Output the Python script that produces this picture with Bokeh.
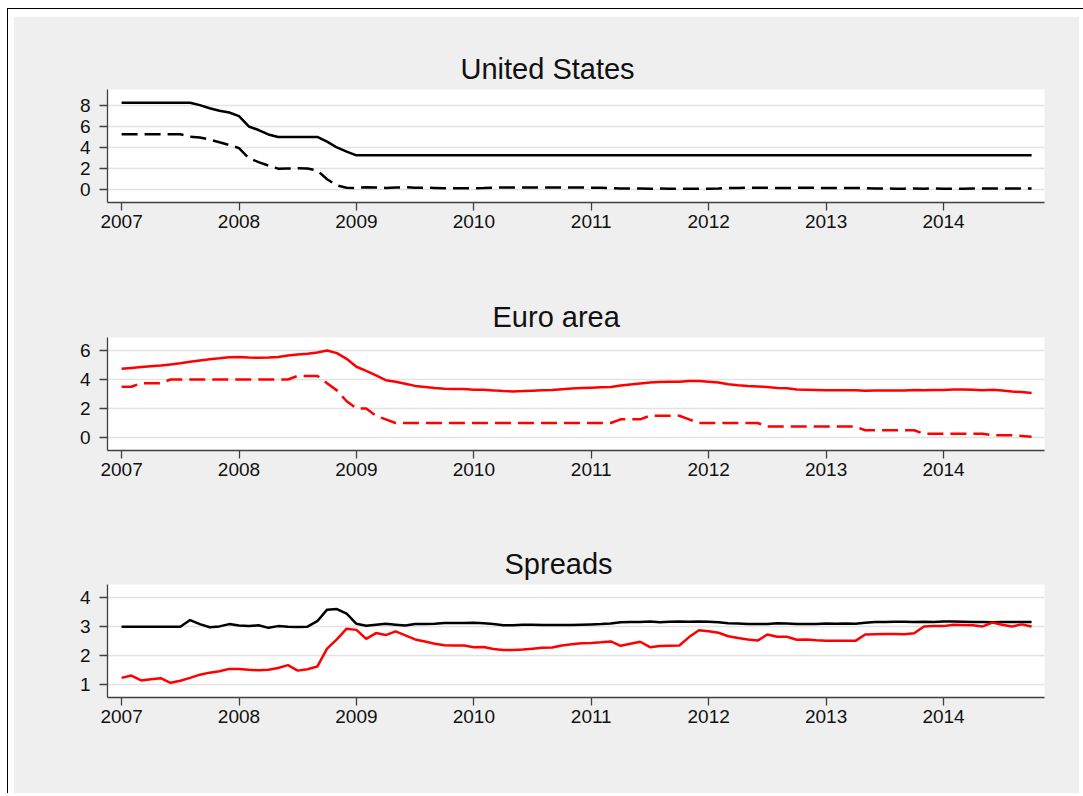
import pandas as pd
from bokeh.plotting import figure
from bokeh.layouts import column, row
from bokeh.models import Spacer, FixedTicker, Range1d
from bokeh.embed import file_html
from bokeh.resources import INLINE

# ---------------- data (monthly, Jan 2007 - Oct 2014) ----------------
months = pd.date_range("2007-01-01", "2014-10-01", freq="MS")
decimal_year = list(months.year + (months.month - 1) / 12.0)

year_ticks = [2007, 2008, 2009, 2010, 2011, 2012, 2013, 2014]

us_prime = [
    8.25, 8.25, 8.25, 8.25, 8.25, 8.25, 8.25, 8.25, 8.03, 7.74, 7.50, 7.33,
    6.98, 6.00, 5.66, 5.24, 5.00, 5.00, 5.00, 5.00, 5.00, 4.56, 4.00, 3.61,
    3.25, 3.25, 3.25, 3.25, 3.25, 3.25, 3.25, 3.25, 3.25, 3.25, 3.25, 3.25,
    3.25, 3.25, 3.25, 3.25, 3.25, 3.25, 3.25, 3.25, 3.25, 3.25, 3.25, 3.25,
    3.25, 3.25, 3.25, 3.25, 3.25, 3.25, 3.25, 3.25, 3.25, 3.25, 3.25, 3.25,
    3.25, 3.25, 3.25, 3.25, 3.25, 3.25, 3.25, 3.25, 3.25, 3.25, 3.25, 3.25,
    3.25, 3.25, 3.25, 3.25, 3.25, 3.25, 3.25, 3.25, 3.25, 3.25, 3.25, 3.25,
    3.25, 3.25, 3.25, 3.25, 3.25, 3.25, 3.25, 3.25, 3.25, 3.25,
]
us_policy = [
    5.25, 5.26, 5.26, 5.25, 5.25, 5.25, 5.26, 5.02, 4.94, 4.76, 4.49, 4.24,
    3.94, 2.98, 2.61, 2.28, 1.98, 2.00, 2.01, 2.00, 1.81, 0.97, 0.39, 0.16,
    0.15, 0.22, 0.18, 0.15, 0.18, 0.21, 0.16, 0.16, 0.15, 0.12, 0.12, 0.12,
    0.11, 0.13, 0.16, 0.20, 0.20, 0.18, 0.18, 0.19, 0.19, 0.19, 0.19, 0.18,
    0.17, 0.16, 0.14, 0.10, 0.09, 0.09, 0.07, 0.10, 0.08, 0.07, 0.08, 0.07,
    0.08, 0.10, 0.13, 0.14, 0.16, 0.16, 0.16, 0.13, 0.14, 0.16, 0.16, 0.16,
    0.14, 0.15, 0.14, 0.15, 0.11, 0.09, 0.09, 0.08, 0.08, 0.09, 0.08, 0.09,
    0.07, 0.07, 0.08, 0.09, 0.09, 0.10, 0.09, 0.09, 0.09, 0.09,
]
ea_lending = [
    4.74, 4.80, 4.86, 4.92, 4.96, 5.04, 5.12, 5.22, 5.32, 5.40, 5.46, 5.53,
    5.55, 5.52, 5.50, 5.52, 5.56, 5.66, 5.72, 5.78, 5.86, 6.00, 5.82, 5.43,
    4.88, 4.60, 4.28, 3.95, 3.85, 3.71, 3.56, 3.49, 3.41, 3.37, 3.35, 3.34,
    3.30, 3.29, 3.25, 3.20, 3.18, 3.20, 3.23, 3.26, 3.28, 3.33, 3.38, 3.42,
    3.44, 3.46, 3.48, 3.59, 3.66, 3.73, 3.79, 3.83, 3.84, 3.85, 3.90, 3.89,
    3.84, 3.79, 3.67, 3.61, 3.56, 3.52, 3.48, 3.42, 3.40, 3.31, 3.30, 3.28,
    3.26, 3.26, 3.26, 3.26, 3.23, 3.24, 3.25, 3.25, 3.24, 3.27, 3.26, 3.27,
    3.27, 3.31, 3.31, 3.30, 3.26, 3.29, 3.24, 3.17, 3.13, 3.07,
]
ea_policy = [
    3.50, 3.50, 3.75, 3.75, 3.75, 4.00, 4.00, 4.00, 4.00, 4.00, 4.00, 4.00,
    4.00, 4.00, 4.00, 4.00, 4.00, 4.00, 4.25, 4.25, 4.25, 3.75, 3.25, 2.50,
    2.00, 2.00, 1.50, 1.25, 1.00, 1.00, 1.00, 1.00, 1.00, 1.00, 1.00, 1.00,
    1.00, 1.00, 1.00, 1.00, 1.00, 1.00, 1.00, 1.00, 1.00, 1.00, 1.00, 1.00,
    1.00, 1.00, 1.00, 1.25, 1.25, 1.25, 1.50, 1.50, 1.50, 1.50, 1.25, 1.00,
    1.00, 1.00, 1.00, 1.00, 1.00, 1.00, 0.75, 0.75, 0.75, 0.75, 0.75, 0.75,
    0.75, 0.75, 0.75, 0.75, 0.50, 0.50, 0.50, 0.50, 0.50, 0.50, 0.25, 0.25,
    0.25, 0.25, 0.25, 0.25, 0.25, 0.15, 0.15, 0.15, 0.10, 0.05,
]
us_spread = [
    3.00, 3.00, 3.00, 3.00, 3.00, 3.00, 3.00, 3.23, 3.09, 2.98, 3.01, 3.09,
    3.04, 3.02, 3.05, 2.96, 3.02, 3.00, 2.99, 3.00, 3.19, 3.59, 3.61, 3.45,
    3.10, 3.03, 3.07, 3.10, 3.07, 3.04, 3.09, 3.09, 3.10, 3.13, 3.13, 3.13,
    3.14, 3.12, 3.09, 3.05, 3.05, 3.07, 3.07, 3.06, 3.06, 3.06, 3.06, 3.07,
    3.08, 3.09, 3.11, 3.15, 3.16, 3.16, 3.18, 3.15, 3.17, 3.18, 3.17, 3.18,
    3.17, 3.15, 3.12, 3.11, 3.09, 3.09, 3.09, 3.12, 3.11, 3.09, 3.09, 3.09,
    3.11, 3.10, 3.11, 3.10, 3.14, 3.16, 3.16, 3.17, 3.17, 3.16, 3.17, 3.16,
    3.18, 3.18, 3.17, 3.16, 3.16, 3.15, 3.16, 3.16, 3.16, 3.16,
]
ea_spread = [
    1.23, 1.31, 1.14, 1.18, 1.22, 1.06, 1.13, 1.23, 1.34, 1.41, 1.46, 1.54,
    1.54, 1.51, 1.49, 1.51, 1.57, 1.67, 1.48, 1.53, 1.62, 2.24, 2.56, 2.93,
    2.89, 2.58, 2.78, 2.71, 2.84, 2.70, 2.56, 2.49, 2.41, 2.36, 2.35, 2.35,
    2.29, 2.30, 2.23, 2.19, 2.19, 2.21, 2.24, 2.27, 2.28, 2.35, 2.39, 2.43,
    2.44, 2.46, 2.49, 2.34, 2.41, 2.48, 2.29, 2.33, 2.34, 2.35, 2.64, 2.88,
    2.84, 2.79, 2.67, 2.61, 2.56, 2.52, 2.73, 2.65, 2.65, 2.55, 2.56, 2.53,
    2.51, 2.51, 2.51, 2.51, 2.73, 2.74, 2.75, 2.75, 2.74, 2.77, 3.01, 3.02,
    3.02, 3.07, 3.06, 3.05, 3.01, 3.14, 3.07, 3.01, 3.08, 3.01,
]

# ---------------- styling ----------------
FONT = "Liberation Sans"
BG = "#efefef"
AXIS = "#404040"
GRID = "#e3e3e3"
LW = 2.5
DASH = "16 7"


def make_panel(title, title_left, height, top, bottom, yr, yticks):
    p = figure(width=1065, height=height, output_backend="svg",
               toolbar_location=None,
               x_range=Range1d(2006.88, 2014.86), y_range=Range1d(*yr),
               min_border_left=93, min_border_right=35,
               min_border_top=top, min_border_bottom=bottom,
               background_fill_color="white", border_fill_color=BG)
    p.outline_line_color = None
    p.title.text = title
    p.title.align = "left"
    p.title.offset = title_left
    p.title.text_font = FONT
    p.title.text_font_size = "29px"
    p.title.text_font_style = "normal"
    p.title.text_color = "#111111"
    p.title.standoff = 9
    p.xaxis.ticker = FixedTicker(ticks=year_ticks)
    p.yaxis.ticker = FixedTicker(ticks=yticks)
    for ax in (p.xaxis[0], p.yaxis[0]):
        ax.axis_line_color = AXIS
        ax.axis_line_width = 1.3
        ax.major_tick_line_color = AXIS
        ax.major_tick_line_width = 1.3
        ax.major_tick_out = 8
        ax.major_tick_in = 0
        ax.minor_tick_line_color = None
        ax.major_label_text_font = FONT
        ax.major_label_text_font_size = "19px"
        ax.major_label_text_color = "#111111"
    p.xaxis.major_label_standoff = 4
    p.yaxis.major_label_standoff = 9
    p.xgrid.visible = False
    p.ygrid.grid_line_color = GRID
    p.ygrid.grid_line_width = 1.3
    return p


p1 = make_panel("United States", 353, 248, 72, 63, (-1.24, 9.52), [0, 2, 4, 6, 8])
p1.line(decimal_year, us_prime, line_color="black", line_width=LW)
p1.line(decimal_year, us_policy, line_color="black", line_width=LW, line_dash=DASH)

p2 = make_panel("Euro area", 385, 248, 72, 63, (-0.9, 6.9), [0, 2, 4, 6])
p2.line(decimal_year, ea_lending, line_color="red", line_width=LW)
p2.line(decimal_year, ea_policy, line_color="red", line_width=LW, line_dash=DASH)

p3 = make_panel("Spreads", 397, 280, 71, 96, (0.55, 4.46), [1, 2, 3, 4])
p3.line(decimal_year, us_spread, line_color="black", line_width=LW)
p3.line(decimal_year, ea_spread, line_color="red", line_width=LW)

panels = column(p1, p2, p3, spacing=0, styles={"background-color": BG})
inner = column(Spacer(width=1065, height=8), panels, spacing=0)
left_line = Spacer(width=1, height=784, styles={"background-color": "black"})
body = row(left_line, Spacer(width=6, height=784), inner, spacing=0)
top_line = Spacer(width=1076, height=1, styles={"background-color": "black"})
framed = column(top_line, body, spacing=0)
layout = column(Spacer(width=1, height=8),
                row(Spacer(width=7, height=1), framed, spacing=0),
                spacing=0)

open("out.html", "w").write(file_html(layout, INLINE))
